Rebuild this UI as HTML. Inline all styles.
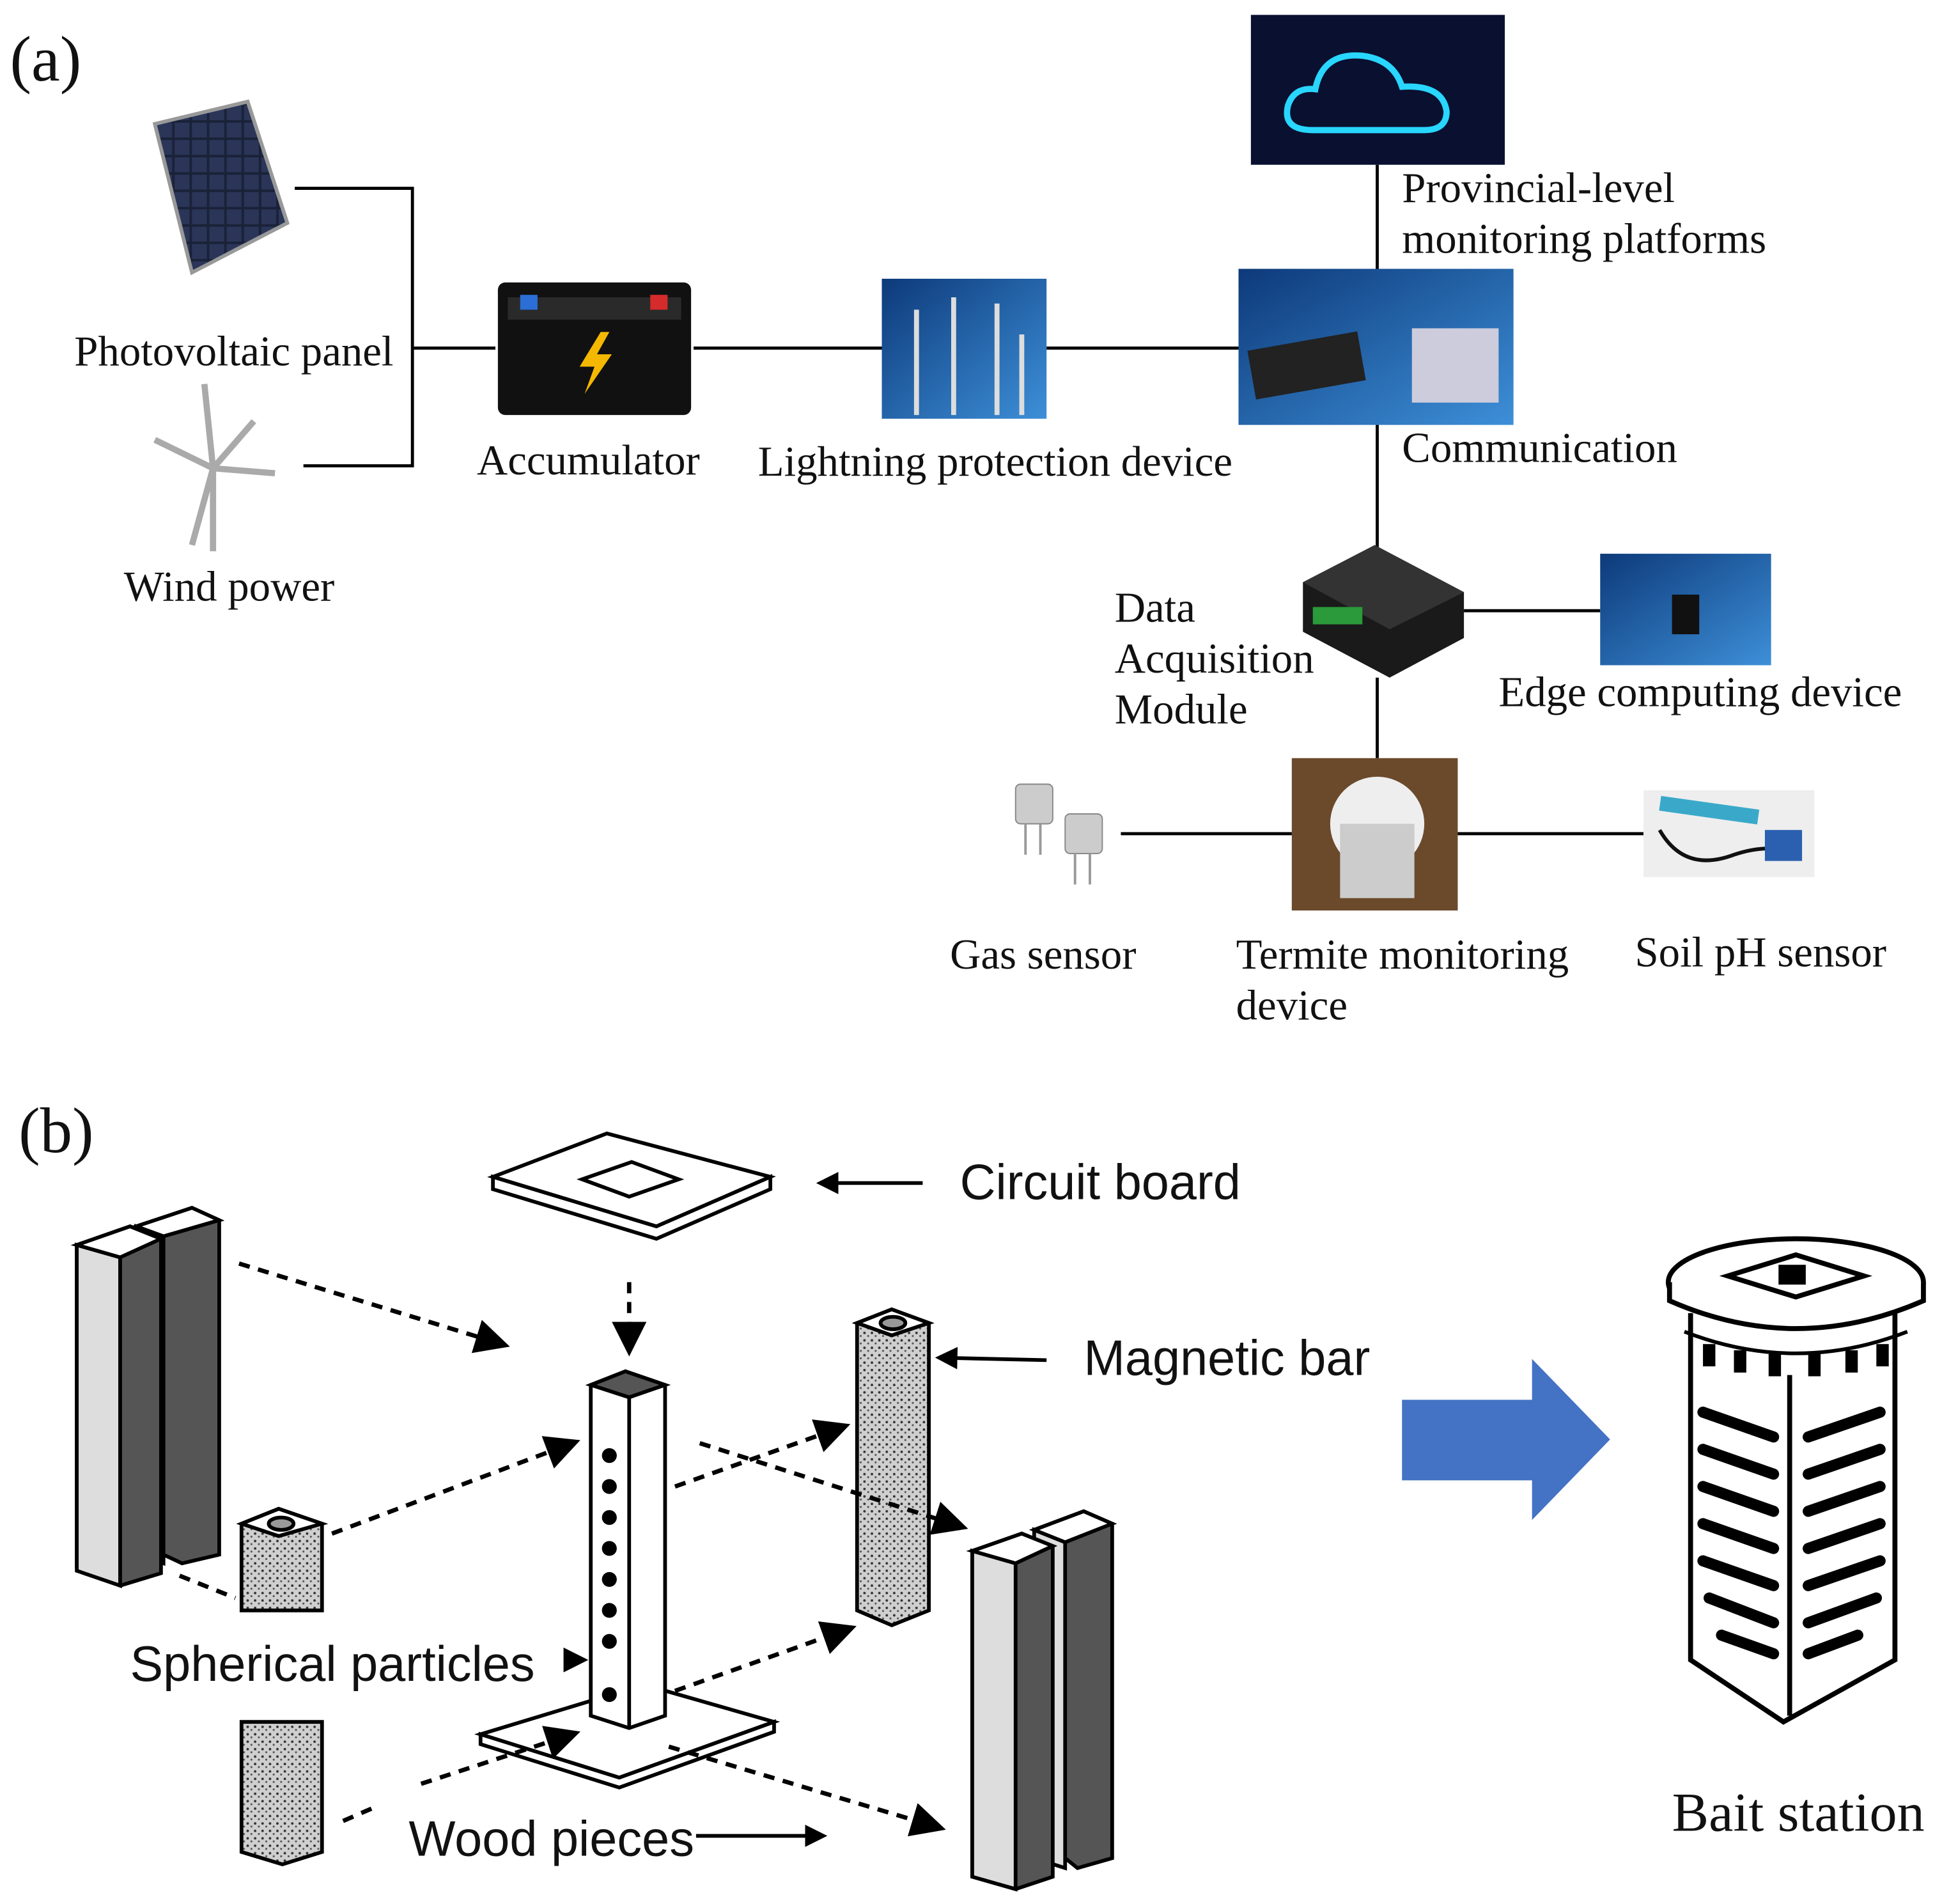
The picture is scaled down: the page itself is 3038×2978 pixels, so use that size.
<!DOCTYPE html>
<html><head><meta charset="utf-8">
<style>
html,body{margin:0;padding:0;background:#fff;}
svg{display:block;}
.s{font-family:"Liberation Serif",serif;font-size:34.5px;fill:#111;}
.a{font-family:"Liberation Sans",sans-serif;font-size:40px;fill:#111;}
.l{stroke:#000;stroke-width:2.5;fill:none;}
.d{stroke:#000;stroke-width:3.5;stroke-dasharray:9 7;fill:none;}
</style></head><body>
<svg width="3038" height="2978" viewBox="0 0 1568 1537" xmlns="http://www.w3.org/2000/svg">
<defs>
<marker id="ah" markerWidth="8" markerHeight="8" refX="6" refY="4" orient="auto" markerUnits="strokeWidth"><path d="M0,0 L8,4 L0,8 z" fill="#000"/></marker>
<marker id="ah2" markerWidth="6" markerHeight="6" refX="5" refY="3" orient="auto" markerUnits="strokeWidth"><path d="M0,0 L6,3 L0,6 z" fill="#000"/></marker>
<pattern id="grid" width="14" height="14" patternUnits="userSpaceOnUse"><rect width="14" height="14" fill="#1a2238"/><rect x="1" y="1" width="12" height="12" fill="#2a3558"/></pattern>
<linearGradient id="blu" x1="0" y1="0" x2="1" y2="1"><stop offset="0" stop-color="#0d3a7a"/><stop offset="1" stop-color="#3d8fd8"/></linearGradient>
<pattern id="spk" width="6" height="6" patternUnits="userSpaceOnUse"><rect width="6" height="6" fill="#cfcfcf"/><circle cx="2" cy="2" r="1" fill="#333"/><circle cx="5" cy="4.5" r="0.8" fill="#555"/></pattern>
</defs>

<text x="8" y="65" class="s" style="font-size:52px">(a)</text>

<polygon points="125,100 200,82 232,180 155,220" fill="url(#grid)" stroke="#999" stroke-width="3"/>
<text x="60" y="295" class="s">Photovoltaic panel</text>
<g stroke="#aaa" stroke-width="5" fill="none">
<line x1="172" y1="380" x2="172" y2="445"/>
<line x1="172" y1="378" x2="165" y2="310"/>
<line x1="172" y1="378" x2="125" y2="355"/>
<line x1="172" y1="378" x2="222" y2="382"/>
<line x1="172" y1="378" x2="155" y2="440"/>
<line x1="172" y1="378" x2="205" y2="340"/>
</g>
<text x="100" y="485" class="s">Wind power</text>
<path class="l" d="M238,152 H333 V376 H245 M333,281 H400"/>

<rect x="402" y="228" width="156" height="107" rx="6" fill="#111"/>
<rect x="410" y="240" width="140" height="18" fill="#2a2a2a"/>
<rect x="420" y="238" width="14" height="12" fill="#2b6fd6"/><rect x="525" y="238" width="14" height="12" fill="#d62b2b"/>
<polygon points="485,268 468,296 480,296 472,318 494,286 482,286 492,268" fill="#f5b800"/>
<text x="385" y="383" class="s">Accumulator</text>
<path class="l" d="M560,281 H712"/>

<rect x="712" y="225" width="133" height="113" fill="url(#blu)"/>
<g stroke="#ddd" stroke-width="4"><line x1="740" y1="250" x2="740" y2="335"/><line x1="770" y1="240" x2="770" y2="335"/><line x1="805" y1="245" x2="805" y2="335"/><line x1="825" y1="270" x2="825" y2="335"/></g>
<text x="612" y="384" class="s">Lightning protection device</text>
<path class="l" d="M845,281 H1000"/>

<rect x="1000" y="217" width="222" height="126" fill="url(#blu)"/>
<rect x="1010" y="275" width="90" height="40" fill="#222" transform="rotate(-10 1055 295)"/>
<rect x="1140" y="265" width="70" height="60" fill="#ccd" />
<text x="1132" y="373" class="s">Communication</text>

<rect x="1010" y="12" width="205" height="121" fill="#0a1030"/>
<path d="M1060,105 Q1035,105 1040,85 Q1045,70 1062,72 Q1068,42 1100,45 Q1125,48 1132,70 Q1165,68 1168,90 Q1168,105 1150,105 Z" fill="none" stroke="#28d6ff" stroke-width="5"/>
<path class="l" d="M1112,133 V217 M1112,343 V445"/>
<text x="1132" y="163" class="s">Provincial-level</text>
<text x="1132" y="204" class="s">monitoring platforms</text>

<polygon points="1052,470 1110,440 1182,478 1182,515 1122,547 1052,510" fill="#1a1a1a"/>
<polygon points="1052,470 1110,440 1182,478 1122,508" fill="#333"/>
<rect x="1060" y="490" width="40" height="14" fill="#2a9a3a"/>
<text x="900" y="502" class="s">Data</text>
<text x="900" y="543" class="s">Acquisition</text>
<text x="900" y="584" class="s">Module</text>
<path class="l" d="M1182,493 H1292 M1112,547 V612"/>
<rect x="1292" y="447" width="138" height="90" fill="url(#blu)"/>
<rect x="1350" y="480" width="22" height="32" fill="#111"/>
<text x="1210" y="570" class="s">Edge computing device</text>

<rect x="1043" y="612" width="134" height="123" fill="#6b4a2c"/>
<circle cx="1112" cy="665" r="38" fill="#eee"/>
<rect x="1082" y="665" width="60" height="60" fill="#ccc"/>
<path class="l" d="M905,673 H1043 M1177,673 H1327"/>
<g fill="#ccc" stroke="#888"><rect x="820" y="633" width="30" height="32" rx="4"/><rect x="860" y="657" width="30" height="32" rx="4"/></g>
<g stroke="#999" stroke-width="2"><line x1="828" y1="665" x2="828" y2="690"/><line x1="840" y1="665" x2="840" y2="690"/><line x1="868" y1="689" x2="868" y2="714"/><line x1="880" y1="689" x2="880" y2="714"/></g>
<rect x="1327" y="638" width="138" height="70" fill="#eee"/>
<rect x="1340" y="648" width="80" height="12" fill="#3aa9c9" transform="rotate(8 1380 654)"/>
<path d="M1340,670 Q1360,705 1400,690 Q1430,680 1450,690" stroke="#111" stroke-width="3" fill="none"/>
<rect x="1425" y="670" width="30" height="25" fill="#2b5fb0"/>
<text x="767" y="782" class="s">Gas sensor</text>
<text x="998" y="782" class="s">Termite monitoring</text>
<text x="998" y="823" class="s">device</text>
<text x="1320" y="780" class="s">Soil pH sensor</text>

<text x="15" y="930" class="s" style="font-size:52px">(b)</text>

<polygon points="398,950 490,915 622,950 530,990" fill="#fff" stroke="#000" stroke-width="3"/>
<polygon points="398,950 530,990 622,950 622,960 530,1000 398,960" fill="#fff" stroke="#000" stroke-width="3"/>
<polygon points="470,952 510,938 548,952 508,966" fill="none" stroke="#000" stroke-width="3"/>
<text x="775" y="968" class="a">Circuit board</text>
<line x1="745" y1="955" x2="662" y2="955" stroke="#000" stroke-width="3" marker-end="url(#ah2)"/>

<g stroke="#000" stroke-width="3">
<polygon points="110,990 155,975 177,985 177,1255 147,1262 132,1255" fill="#555"/>
<polygon points="110,990 132,998 132,1262 110,1255" fill="#ddd"/>
<polygon points="110,990 155,975 177,985 132,998" fill="#fff"/>
<polygon points="62,1005 105,990 130,1000 130,1270 97,1280 62,1265" fill="#555"/>
<polygon points="62,1005 97,1015 97,1280 62,1268" fill="#ddd"/>
<polygon points="62,1005 105,990 130,1000 97,1015" fill="#fff"/>
</g>
<g stroke="#000" stroke-width="3">
<polygon points="835,1235 875,1220 898,1230 898,1500 870,1508 860,1500" fill="#555"/>
<polygon points="835,1235 860,1245 860,1508 835,1500" fill="#ddd"/>
<polygon points="835,1235 875,1220 898,1230 860,1245" fill="#fff"/>
<polygon points="785,1252 825,1238 850,1248 850,1515 820,1525 785,1515" fill="#555"/>
<polygon points="785,1252 820,1262 820,1525 785,1515" fill="#ddd"/>
<polygon points="785,1252 825,1238 850,1248 820,1262" fill="#fff"/>
</g>
<g stroke="#000" stroke-width="3">
<polygon points="692,1068 720,1057 750,1068 750,1300 720,1312 692,1300" fill="url(#spk)"/>
<polygon points="692,1068 720,1078 750,1068 720,1057" fill="#fff"/>
<ellipse cx="721" cy="1068" rx="10" ry="5" fill="#999"/>
<polygon points="195,1230 225,1218 260,1230 260,1300 195,1300" fill="url(#spk)"/>
<polygon points="195,1230 225,1240 260,1230 225,1218" fill="#fff"/>
<ellipse cx="227" cy="1230" rx="10" ry="5" fill="#999"/>
<polygon points="195,1390 260,1390 260,1495 228,1505 195,1495" fill="url(#spk)"/>
</g>
<text x="875" y="1110" class="a">Magnetic bar</text>
<line x1="845" y1="1098" x2="758" y2="1096" stroke="#000" stroke-width="3" marker-end="url(#ah2)"/>

<polygon points="388,1400 520,1360 625,1390 500,1435" fill="#fff" stroke="#000" stroke-width="3"/>
<polygon points="388,1400 500,1435 625,1390 625,1398 500,1443 388,1408" fill="#fff" stroke="#000" stroke-width="3"/>
<g stroke="#000" stroke-width="3">
<polygon points="477,1118 505,1107 537,1118 537,1385 508,1395 477,1385" fill="#fff"/>
<polygon points="477,1118 508,1128 537,1118 505,1107" fill="#555"/>
<line x1="508" y1="1128" x2="508" y2="1395"/>
</g>
<g fill="#000"><circle cx="492" cy="1175" r="6"/><circle cx="492" cy="1200" r="6"/><circle cx="492" cy="1225" r="6"/><circle cx="492" cy="1250" r="6"/><circle cx="492" cy="1275" r="6"/><circle cx="492" cy="1300" r="6"/><circle cx="492" cy="1325" r="6"/><circle cx="492" cy="1368" r="6"/></g>

<g class="d">
<line x1="193" y1="1020" x2="405" y2="1085" marker-end="url(#ah)"/>
<line x1="508" y1="1035" x2="508" y2="1088" marker-end="url(#ah)"/>
<line x1="268" y1="1238" x2="462" y2="1165" marker-end="url(#ah)"/>
<line x1="545" y1="1200" x2="680" y2="1152" marker-end="url(#ah)"/>
<line x1="565" y1="1165" x2="775" y2="1232" marker-end="url(#ah)"/>
<line x1="545" y1="1365" x2="685" y2="1315" marker-end="url(#ah)"/>
<line x1="540" y1="1410" x2="757" y2="1475" marker-end="url(#ah)"/>
<line x1="340" y1="1440" x2="462" y2="1400" marker-end="url(#ah)"/>
<line x1="145" y1="1272" x2="190" y2="1290"/>
<line x1="277" y1="1470" x2="300" y2="1460"/>
</g>
<text x="105" y="1357" class="a">Spherical particles</text>
<polygon points="455,1330 475,1340 455,1350" fill="#000"/>
<text x="330" y="1498" class="a">Wood pieces</text>
<line x1="562" y1="1482" x2="665" y2="1482" stroke="#000" stroke-width="3" marker-end="url(#ah2)"/>

<polygon points="1132,1130 1237,1130 1237,1097 1300,1162 1237,1227 1237,1195 1132,1195" fill="#4472c4"/>

<g stroke="#000" stroke-width="4" fill="#fff">
<path d="M1365,1060 L1365,1340 L1440,1390 L1530,1340 L1530,1060"/>
<ellipse cx="1450" cy="1035" rx="103" ry="35"/>
<path d="M1348,1035 L1348,1050 Q1450,1095 1553,1050 L1553,1035"/>
<line x1="1445" y1="1110" x2="1445" y2="1385"/>
<polygon points="1395,1030 1450,1013 1505,1030 1450,1047" fill="#fff"/>
<rect x="1438" y="1023" width="18" height="12" fill="#000"/>
</g>
<g stroke="#000" stroke-width="3" fill="none"><path d="M1360,1075 Q1450,1110 1540,1075"/></g>
<g fill="#000">
<rect x="1375" y="1085" width="10" height="18"/><rect x="1400" y="1090" width="10" height="18"/><rect x="1428" y="1093" width="10" height="18"/><rect x="1460" y="1093" width="10" height="18"/><rect x="1490" y="1090" width="10" height="18"/><rect x="1515" y="1085" width="10" height="18"/>
</g>
<g stroke="#000" stroke-width="9" stroke-linecap="round">
<line x1="1375" y1="1140" x2="1432" y2="1160"/><line x1="1375" y1="1170" x2="1432" y2="1190"/><line x1="1375" y1="1200" x2="1432" y2="1220"/><line x1="1375" y1="1230" x2="1432" y2="1250"/><line x1="1375" y1="1260" x2="1432" y2="1280"/><line x1="1380" y1="1290" x2="1432" y2="1310"/><line x1="1390" y1="1320" x2="1432" y2="1335"/>
<line x1="1460" y1="1160" x2="1518" y2="1140"/><line x1="1460" y1="1190" x2="1518" y2="1170"/><line x1="1460" y1="1220" x2="1518" y2="1200"/><line x1="1460" y1="1250" x2="1518" y2="1230"/><line x1="1460" y1="1280" x2="1518" y2="1260"/><line x1="1460" y1="1310" x2="1515" y2="1290"/><line x1="1460" y1="1335" x2="1500" y2="1320"/>
</g>
<text x="1350" y="1478" class="s" style="font-size:44.5px">Bait station</text>
</svg>
</body></html>
